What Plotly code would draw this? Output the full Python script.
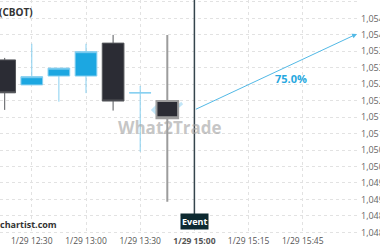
import plotly.graph_objects as go

# ---- data ----
slots = [0, 1, 2, 3, 4, 5]
opens = [1.05324, 1.05248, 1.05275, 1.05275, 1.05375, 1.05224]
highs = [1.05330, 1.05373, 1.05299, 1.05373, 1.05400, 1.05245]
lows = [1.05172, 1.05248, 1.05197, 1.05223, 1.05170, 1.05045]
closes = [1.05224, 1.05273, 1.05299, 1.05349, 1.05199, 1.05224]

event_slot = [6]
event_open = [1.05199]
event_high = [1.05400]
event_low = [1.04893]
event_close = [1.05147]

event_x = 7
arrow_start = (7, 1.05172)
arrow_end = (13, 1.05403)
prob_label = "75.0%"
prob_pos = (10.56, 1.05269)

tick_slots = [1, 3, 5, 7, 9, 11]
tick_labels = ["1/29 12:30", "1/29 13:00", "1/29 13:30", "<b>1/29 15:00</b>", "1/29 15:15", "1/29 15:45"]
y_ticks = [1.0480 + 0.0005 * i for i in range(15)]

fig = go.Figure()
fig.add_trace(go.Candlestick(
    x=slots, open=opens, high=highs, low=lows, close=closes,
    increasing=dict(line=dict(color="#86cff0", width=1), fillcolor="#1ca7e1"),
    decreasing=dict(line=dict(color="#56585c", width=1), fillcolor="#2b2c34"),
    whiskerwidth=0, hoverinfo="skip", showlegend=False,
))
fig.add_trace(go.Candlestick(
    x=event_slot, open=event_open, high=event_high, low=event_low, close=event_close,
    increasing=dict(line=dict(color="#9c9c9c", width=2), fillcolor="#2b2c34"),
    decreasing=dict(line=dict(color="#9c9c9c", width=2), fillcolor="#2b2c34"),
    whiskerwidth=0, hoverinfo="skip", showlegend=False,
))

# event line
fig.add_shape(type="line", xref="x", yref="paper", x0=event_x, x1=event_x, y0=0.03, y1=1,
              line=dict(color="#34444c", width=1.5))

# watermark icon (below traces)
fig.add_shape(type="path", xref="x", yref="y", layer="below",
              path="M 5.73,1.05193 L 5.47,1.05172 L 5.73,1.05151 M 5.95,1.05151 L 6.55,1.05193",
              line=dict(color="rgba(120,200,240,0.45)", width=3))

fig.add_annotation(x=6.1, y=1.05120, xref="x", yref="y", text="<b>What2Trade</b>",
                   showarrow=False, font=dict(family="Open Sans", size=17, color="rgba(160,160,160,0.6)"))

# forecast arrow
fig.add_annotation(x=arrow_end[0], y=arrow_end[1], ax=arrow_start[0], ay=arrow_start[1],
                   xref="x", yref="y", axref="x", ayref="y", text="", showarrow=True,
                   arrowhead=2, arrowsize=1, arrowwidth=1, arrowcolor="#52b9e6")
fig.add_annotation(x=prob_pos[0], y=prob_pos[1], xref="x", yref="y", text="<b>" + prob_label + "</b>",
                   showarrow=False, font=dict(family="Open Sans", size=11, color="#27a8e0"))

# event label
fig.add_annotation(x=event_x, y=0.015, xref="x", yref="paper", text="<b>Event</b>",
                   showarrow=False, bgcolor="#0e2a31", borderpad=1,
                   font=dict(family="Open Sans", size=9, color="white"))

# title and source
fig.add_annotation(x=0, y=1, xref="paper", yref="paper", xanchor="left", yanchor="top",
                   text="<b>(CBOT)</b>", showarrow=False, xshift=-3, yshift=-3,
                   font=dict(family="Open Sans", size=10, color="#333333"))
fig.add_annotation(x=0, y=0.04, xref="paper", yref="paper", xanchor="left", yanchor="middle",
                   text="<b>chartist.com</b>", showarrow=False, xshift=-2,
                   font=dict(family="Open Sans", size=9, color="#333333"))

fig.update_layout(
    width=380, height=250, margin=dict(l=0, r=20, t=0, b=16),
    paper_bgcolor="white", plot_bgcolor="white", separators=",.",
    font=dict(family="Open Sans", size=9, color="#666666"),
    showlegend=False, hovermode=False, boxgap=0.2, boxgroupgap=0,
    xaxis=dict(range=[-0.173, 13.11], tickvals=tick_slots, ticktext=tick_labels,
               showgrid=True, gridcolor="#e2e2e2", griddash="dot", gridwidth=1, automargin=False,
               zeroline=False, showline=False, ticks="", rangeslider=dict(visible=False),
               tickfont=dict(size=8.5, color="#555555")),
    yaxis=dict(range=[1.04795, 1.05506], side="right", tickvals=y_ticks, tickformat=".4f",
               showgrid=True, gridcolor="#e2e2e2", griddash="dot", gridwidth=1, automargin=False,
               zeroline=False, showline=False, ticks="",
               tickfont=dict(size=9, color="#666666")),
)

fig.write_html("out.html")
